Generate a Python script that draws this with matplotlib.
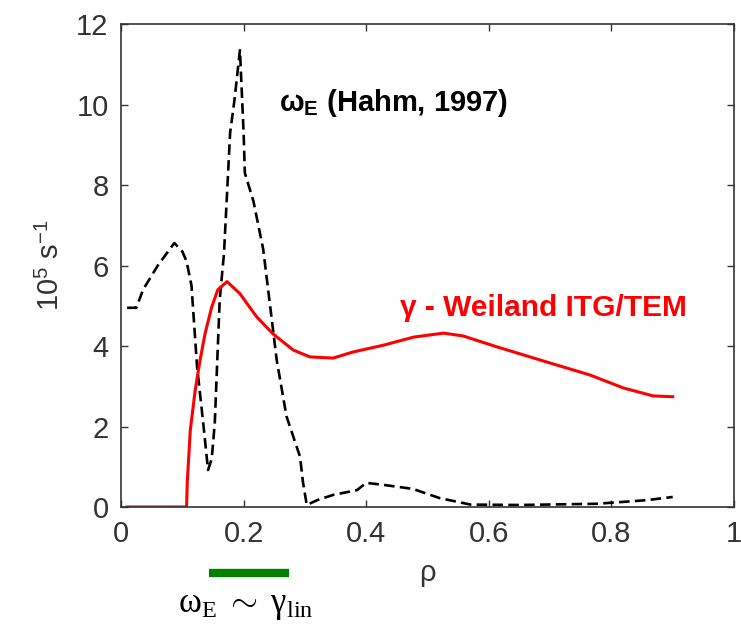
import numpy as np
import matplotlib.pyplot as plt

plt.rcParams['font.family'] = ['Liberation Sans', 'DejaVu Sans']
plt.rcParams['mathtext.fontset'] = 'custom'
plt.rcParams['mathtext.rm'] = 'Liberation Serif'
plt.rcParams['mathtext.it'] = 'Liberation Serif:italic'
plt.rcParams['mathtext.sf'] = 'Liberation Sans'
plt.rcParams['mathtext.bf'] = 'Liberation Sans:bold'

# omega_E (Hahm, 1997), dashed black
rho_e = [0.01, 0.025, 0.036, 0.06, 0.087, 0.1, 0.107, 0.115, 0.124, 0.134, 0.142,
         0.148, 0.153, 0.161, 0.168, 0.178, 0.185, 0.194, 0.2, 0.202, 0.216, 0.232,
         0.24, 0.254, 0.27, 0.292, 0.297, 0.303, 0.32, 0.346, 0.385, 0.4, 0.428,
         0.476, 0.52, 0.57, 0.65, 0.776, 0.858, 0.9]
om_e = [4.95, 4.95, 5.4, 6.0, 6.56, 6.35, 6.1, 5.5, 3.5, 2.1, 0.92,
        1.2, 2.1, 5.15, 6.3, 9.3, 10.1, 11.35, 9.3, 8.3, 7.6, 6.4,
        5.4, 3.65, 2.25, 1.25, 0.6, 0.05, 0.17, 0.3, 0.42, 0.6, 0.55,
        0.45, 0.22, 0.06, 0.05, 0.08, 0.17, 0.25]

# gamma - Weiland ITG/TEM, red
rho_g = [0.01, 0.107, 0.108, 0.113, 0.121, 0.129, 0.137, 0.148, 0.158, 0.173,
         0.194, 0.221, 0.248, 0.281, 0.308, 0.346, 0.378, 0.428, 0.477, 0.526,
         0.558, 0.613, 0.695, 0.765, 0.819, 0.868, 0.9]
gam = [0.0, 0.0, 0.6, 1.9, 2.9, 3.65, 4.3, 4.97, 5.4, 5.6,
       5.3, 4.73, 4.3, 3.9, 3.73, 3.7, 3.85, 4.02, 4.22, 4.32,
       4.25, 3.98, 3.6, 3.28, 2.96, 2.76, 2.74]

xticks = [0, 0.2, 0.4, 0.6, 0.8, 1]
yticks = [0, 2, 4, 6, 8, 10, 12]
band = [0.144, 0.274]

fig = plt.figure(figsize=(7.41, 6.24), dpi=100)
ax = fig.add_axes([0.1633, 0.1875, 0.8273, 0.774])

ax.plot(rho_e, om_e, color='black', lw=1.9, ls=(0, (4, 2)))
ax.plot(rho_g, gam, color='red', lw=2.2)

ax.set_xlim(0, 1)
ax.set_ylim(0, 12)
ax.set_xticks(xticks)
ax.set_xticklabels(['0', '0.2', '0.4', '0.6', '0.8', '1'])
ax.set_yticks(yticks)
ax.tick_params(direction='in', length=5, width=1, top=True, right=True,
               labelsize=21, labelcolor='#333333', color='#333333', pad=9)
for s in ax.spines.values():
    s.set_color('#333333')
    s.set_linewidth(1.2)

ax.set_xlabel('ρ', fontsize=21, color='#333333', labelpad=8)
ax.set_ylabel(r'10$^{\mathsf{5}}$ s$^{\mathsf{-1}}$', fontsize=21,
              color='#333333', labelpad=8)

ax.text(0.258, 10.05, r'$\mathbf{\omega_E}$ (Hahm, 1997)', fontsize=21,
        fontweight='bold', va='center', ha='left')
ax.text(0.455, 4.95, 'γ - Weiland ITG/TEM', fontsize=21.5, fontweight='bold',
        color='red', va='center', ha='left')

ax.plot(band, [-1.64, -1.64], color='#008000', lw=6, solid_capstyle='butt',
        clip_on=False)
fig.text(0.332, 0.03, r'$\mathrm{\omega_E\ \sim\ \gamma_{lin}}$', fontsize=25,
         ha='center', va='center')

fig.savefig('out.png', dpi=100)
